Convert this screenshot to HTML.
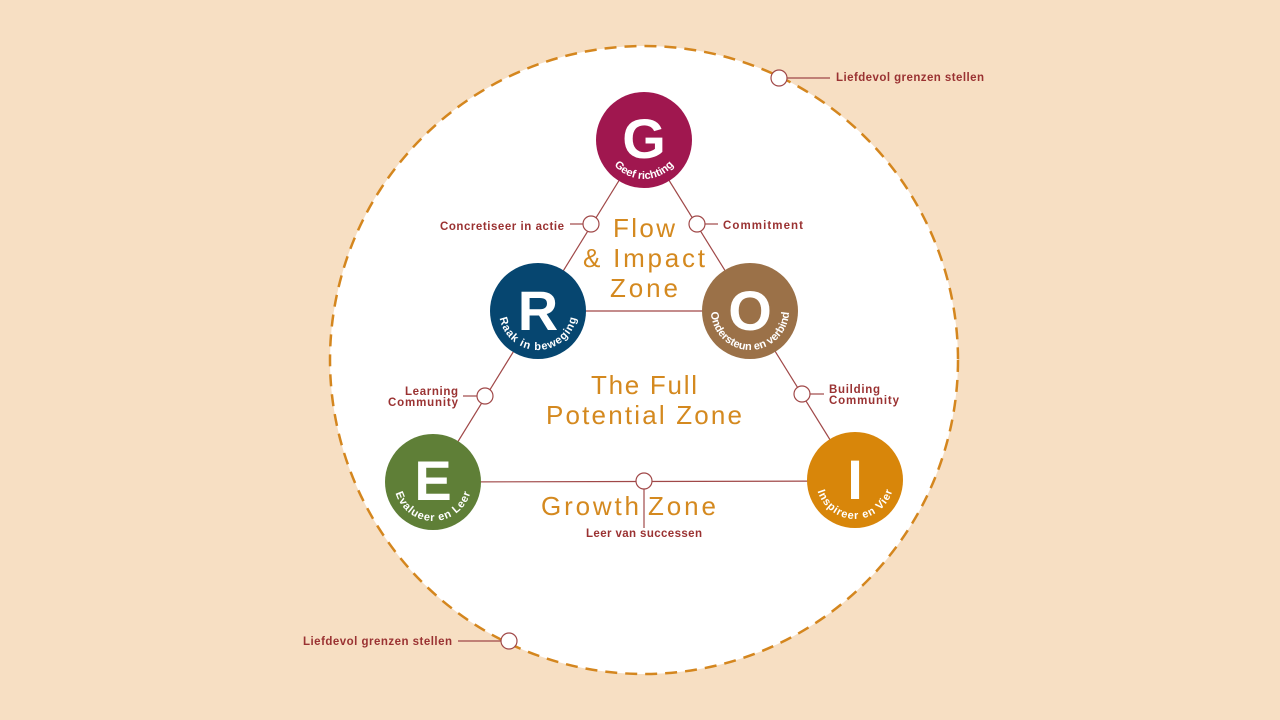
<!DOCTYPE html>
<html><head><meta charset="utf-8"><style>
html,body{margin:0;padding:0;background:#F7DFC3;}
svg{display:block}
.lab{font-family:"Liberation Sans",sans-serif;font-weight:bold;font-size:11.5px;fill:#9A3232}
.zone{font-family:"Liberation Sans",sans-serif;font-size:26px;fill:#D4891F}
.big{font-family:"Liberation Sans",sans-serif;font-weight:bold;font-size:56px;fill:#fff}
.arc{font-family:"Liberation Sans",sans-serif;font-weight:bold;font-size:11px;fill:#fff}
</style></head><body>
<svg width="1280" height="720" viewBox="0 0 1280 720">
<rect width="1280" height="720" fill="#F7DFC3"/>
<circle cx="644" cy="360" r="314" fill="#fff" stroke="#D4861E" stroke-width="2.5" stroke-dasharray="12 8"/>
<g stroke="#A04848" stroke-width="1.2" fill="none">
<line x1="644" y1="140" x2="433" y2="482"/>
<line x1="644" y1="140" x2="855" y2="480"/>
<line x1="538" y1="311" x2="750" y2="311"/>
<line x1="433" y1="482" x2="855" y2="481"/>
<line x1="644" y1="488" x2="644" y2="528"/>
<line x1="570" y1="224" x2="583" y2="224"/>
<line x1="705" y1="224" x2="718" y2="224"/>
<line x1="463" y1="396" x2="477" y2="396"/>
<line x1="810" y1="394" x2="824" y2="394"/>
<line x1="787" y1="78" x2="830" y2="78"/>
<line x1="458" y1="641" x2="501" y2="641"/>
</g>
<g fill="#fff" stroke="#A04848" stroke-width="1.2">
<circle cx="591" cy="224" r="8"/><circle cx="697" cy="224" r="8"/>
<circle cx="485" cy="396" r="8"/><circle cx="802" cy="394" r="8"/>
<circle cx="644" cy="481" r="8"/>
<circle cx="779" cy="78" r="8"/><circle cx="509" cy="641" r="8"/>
</g>
<defs>
<path id="aG" d="M605,140 A39,39 0 0 0 683,140"/>
<path id="aR" d="M499,311 A39,39 0 0 0 577,311"/>
<path id="aO" d="M711,311 A39,39 0 0 0 789,311"/>
<path id="aE" d="M394,482 A39,39 0 0 0 472,482"/>
<path id="aI" d="M816,480 A39,39 0 0 0 894,480"/>
</defs>
<circle cx="644" cy="140" r="48" fill="#A0174F"/>
<circle cx="538" cy="311" r="48" fill="#064670"/>
<circle cx="750" cy="311" r="48" fill="#9B7148"/>
<circle cx="433" cy="482" r="48" fill="#5F7F37"/>
<circle cx="855" cy="480" r="48" fill="#D8860A"/>
<text class="big" x="644" y="158" text-anchor="middle">G</text>
<text class="big" x="538" y="330" text-anchor="middle">R</text>
<text class="big" x="750" y="330" text-anchor="middle">O</text>
<text class="big" x="433" y="500" text-anchor="middle">E</text>
<text class="big" x="855" y="499" text-anchor="middle">I</text>
<text class="arc"><textPath href="#aG" startOffset="50%" text-anchor="middle">Geef richting</textPath></text>
<text class="arc"><textPath href="#aR" startOffset="50%" text-anchor="middle" textLength="108">Raak in beweging</textPath></text>
<text class="arc"><textPath href="#aO" startOffset="50%" text-anchor="middle" textLength="120">Ondersteun en verbind</textPath></text>
<text class="arc"><textPath href="#aE" startOffset="50%" text-anchor="middle" textLength="100">Evalueer en Leer</textPath></text>
<text class="arc"><textPath href="#aI" startOffset="50%" text-anchor="middle" textLength="100">Inspireer en Vier</textPath></text>
<text class="zone" x="644" y="237" text-anchor="middle" textLength="62">Flow</text>
<text class="zone" x="644" y="267" text-anchor="middle" textLength="122">&amp; Impact</text>
<text class="zone" x="644" y="297" text-anchor="middle" textLength="68">Zone</text>
<text class="zone" x="644" y="394" text-anchor="middle" textLength="106">The Full</text>
<text class="zone" x="644" y="424" text-anchor="middle" textLength="196">Potential Zone</text>
<text class="zone" x="639" y="515" text-anchor="end" textLength="98">Growth</text>
<text class="zone" x="648" y="515" textLength="68">Zone</text>
<text class="lab" x="644" y="537" text-anchor="middle" textLength="116">Leer van successen</text>
<text class="lab" x="564" y="230" text-anchor="end" textLength="124">Concretiseer in actie</text>
<text class="lab" x="723" y="229" textLength="80">Commitment</text>
<text class="lab" x="458" y="395" text-anchor="end" textLength="53">Learning</text>
<text class="lab" x="458" y="406" text-anchor="end" textLength="70">Community</text>
<text class="lab" x="829" y="393" textLength="51">Building</text>
<text class="lab" x="829" y="404" textLength="70">Community</text>
<text class="lab" x="836" y="81" textLength="148">Liefdevol grenzen stellen</text>
<text class="lab" x="452" y="645" text-anchor="end" textLength="149">Liefdevol grenzen stellen</text>
</svg>
</body></html>
